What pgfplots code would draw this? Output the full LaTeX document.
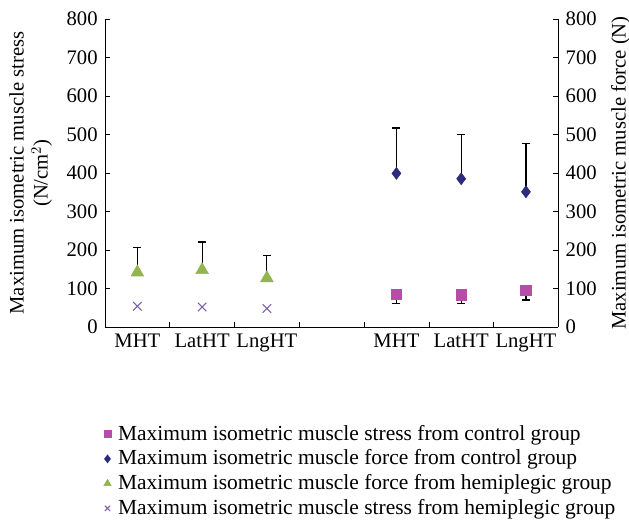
\documentclass[border=0pt]{standalone}
\usepackage{fontspec}
\setmainfont{Liberation Serif}
\usepackage{pgfplots}
\pgfplotsset{compat=1.18}
\definecolor{cSq}{HTML}{B84DA8}
\definecolor{cDi}{HTML}{2B2C7C}
\definecolor{cTr}{HTML}{94B451}
\definecolor{cX}{HTML}{7B5EA7}
\begin{document}
\fontsize{16}{19}\selectfont
\begin{tikzpicture}
\pgfplotsset{
  common/.style={
    width=340pt, height=231pt, scale only axis,
    xmin=0.5, xmax=7.5, ymin=0, ymax=800,
    ytick={0,100,...,800},
    tick align=inside, major tick length=4pt, minor tick length=4pt,
    tick style={black, thin},
    /pgf/number format/assume math mode=true,
    ticklabel style={font=\fontsize{15.5}{18}\selectfont},
    label style={font=\fontsize{15.5}{18}\selectfont},
  }
}
\begin{axis}[common, name=main,
  axis y line*=left, axis x line*=bottom,
  axis line style={black, thin},
  xtick={1,2,3,5,6,7},
  xticklabels={MHT,LatHT,LngHT,MHT,LatHT,LngHT},
  major x tick style={draw=none},
  minor xtick={1.5,2.5,3.5,4.5,5.5,6.5},
  ylabel={Maximum isometric muscle stress\\(N/cm$^2$)},
  ylabel style={align=center},
  legend style={at={(axis description cs:-0.017,-0.30)}, anchor=north west, draw=none, fill=none,
    font=\fontsize{16.1}{18.5}\selectfont, row sep=0.8pt},
  legend cell align=left,
  legend image code/.code={\path (0cm,0cm) (0.35cm,0cm);\draw[mark repeat=2,mark phase=2,#1] plot coordinates {(0cm,0cm) (0.15cm,0cm) (0.3cm,0cm)};},
  error bars/error bar style={black, line width=0.9pt},
  error bars/error mark options={black, rotate=90, mark size=3pt, line width=0.9pt},
]
\addplot[only marks, mark=square*, mark size=4pt, color=cSq,
  legend image post style={mark size=2.6pt},
  error bars/.cd, y dir=minus, y explicit]
  coordinates {(5,85) -= (0,23) (6,84) -= (0,22) (7,95) -= (0,25)};
\addlegendentry{Maximum isometric muscle stress from control group}
\addplot[only marks, mark=diamond*, mark size=4.5pt, color=cDi,
  legend image post style={mark size=3pt},
  error bars/.cd, y dir=plus, y explicit]
  coordinates {(5,399) += (0,118) (6,385) += (0,114) (7,351) += (0,126)};
\addlegendentry{Maximum isometric muscle force from control group}
\addplot[only marks, mark=triangle*, mark size=5.5pt, color=cTr,
  legend image post style={mark size=3.2pt},
  error bars/.cd, y dir=plus, y explicit]
  coordinates {(1,142) += (0,64) (2,148) += (0,73) (3,127) += (0,59)};
\addlegendentry{Maximum isometric muscle force from hemiplegic group}
\addplot[only marks, mark=x, mark size=4.5pt, color=cX, mark options={line width=0.8pt},
  legend image post style={mark size=2.8pt}]
  coordinates {(1,54) (2,52) (3,48)};
\addlegendentry{Maximum isometric muscle stress from hemiplegic group}
\end{axis}
\begin{axis}[common,
  axis y line*=right, axis x line=none,
  axis line style={black, thin},
  ylabel={Maximum isometric muscle force (N)},
]
\end{axis}
\pgfresetboundingbox
\path ([shift={(-78.75pt,-147.75pt)}]main.south west) rectangle ([shift={(393pt,245.25pt)}]main.south west);
\end{tikzpicture}
\end{document}
